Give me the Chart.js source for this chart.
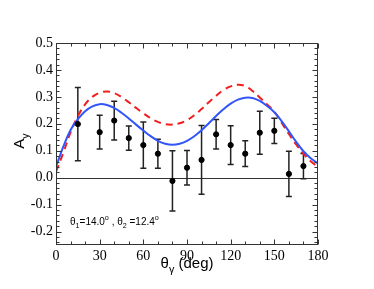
<!DOCTYPE html>
<html>
<head>
<meta charset="utf-8">
<script src="https://cdn.jsdelivr.net/npm/chart.js@4.4.0/dist/chart.umd.min.js"></script>
<style>
html, body { margin: 0; padding: 0; background: #fff; }
</style>
</head>
<body>
<canvas id="canvas" width="374" height="289"></canvas>
<script>
// measured points (theta_gamma in deg, A_y, error)
var angles = [15, 30, 40, 50, 60, 70, 80, 90, 100, 110, 120, 130, 140, 150, 160, 170];
var asym = [0.199, 0.169, 0.212, 0.147, 0.121, 0.089, -0.012, 0.037, 0.066, 0.161, 0.121, 0.089, 0.167, 0.174, 0.014, 0.043];
var asymErr = [0.136, 0.063, 0.072, 0.045, 0.086, 0.054, 0.112, 0.064, 0.128, 0.055, 0.072, 0.048, 0.080, 0.047, 0.084, 0.047];

// calculated curves, every 5 deg
var curveAngles = [0, 5, 10, 15, 20, 25, 30, 35, 40, 45, 50, 55, 60, 65, 70, 75, 80, 85, 90,
                   95, 100, 105, 110, 115, 120, 125, 130, 135, 140, 145, 150, 155, 160, 165, 170, 175, 180];
var solidCurve = [0.040, 0.115, 0.177, 0.217, 0.247, 0.265, 0.273, 0.270, 0.259, 0.241, 0.220, 0.197, 0.175, 0.154, 0.137, 0.126, 0.122, 0.126, 0.137,
                  0.154, 0.176, 0.202, 0.229, 0.254, 0.275, 0.290, 0.297, 0.296, 0.285, 0.266, 0.243, 0.210, 0.172, 0.133, 0.098, 0.072, 0.053];
var dashedCurve = [0.022, 0.092, 0.168, 0.228, 0.272, 0.300, 0.315, 0.320, 0.314, 0.299, 0.280, 0.259, 0.239, 0.221, 0.207, 0.199, 0.197, 0.202, 0.214,
                   0.232, 0.255, 0.280, 0.304, 0.325, 0.339, 0.345, 0.340, 0.322, 0.298, 0.272, 0.245, 0.204, 0.162, 0.123, 0.088, 0.061, 0.040];

// tick labels
var xTicks = [0, 30, 60, 90, 120, 150, 180];
var yTicks = [-0.2, -0.1, 0.0, 0.1, 0.2, 0.3, 0.4, 0.5];

function pairs(xs, ys) {
    var out = [];
    for (var i = 0; i < xs.length; i++) out.push({x: xs[i], y: ys[i]});
    return out;
}

// draw text made of normal / sub / sup pieces
function drawParts(ctx, parts, x, y, size, align) {
    var w = 0;
    parts.forEach(function(p) {
        var s = p[1] == 'n' ? size : size * 0.72;
        ctx.font = s + 'px "Liberation Sans", Arial, sans-serif';
        w += ctx.measureText(p[0]).width;
    });
    var cx = align == 'center' ? x - w / 2 : x;
    parts.forEach(function(p) {
        var s = p[1] == 'n' ? size : size * 0.72;
        var dy = p[1] == 'sub' ? size * 0.3 : (p[1] == 'sup' ? -size * 0.45 : 0);
        ctx.font = s + 'px "Liberation Sans", Arial, sans-serif';
        ctx.fillText(p[0], cx, y + dy);
        cx += ctx.measureText(p[0]).width;
    });
}

var decor = {
    id: 'decor',
    beforeDatasetsDraw: function(chart) {
        var ctx = chart.ctx, xs = chart.scales.x, ys = chart.scales.y;
        ctx.save();
        // zero line
        ctx.strokeStyle = '#333';
        ctx.lineWidth = 1;
        var y0 = Math.round(ys.getPixelForValue(0)) + 0.5;
        ctx.beginPath();
        ctx.moveTo(xs.left, y0);
        ctx.lineTo(xs.right, y0);
        ctx.stroke();
        // error bars
        ctx.strokeStyle = '#222';
        ctx.lineWidth = 1.5;
        for (var i = 0; i < angles.length; i++) {
            var px = xs.getPixelForValue(angles[i]);
            var top = ys.getPixelForValue(asym[i] + asymErr[i]);
            var bot = ys.getPixelForValue(asym[i] - asymErr[i]);
            ctx.beginPath();
            ctx.moveTo(px, top); ctx.lineTo(px, bot);
            ctx.moveTo(px - 3, top); ctx.lineTo(px + 3, top);
            ctx.moveTo(px - 3, bot); ctx.lineTo(px + 3, bot);
            ctx.stroke();
        }
        ctx.restore();
    },
    afterDraw: function(chart) {
        var ctx = chart.ctx, a = chart.chartArea, xs = chart.scales.x, ys = chart.scales.y;
        ctx.save();
        ctx.strokeStyle = '#333';
        ctx.lineWidth = 1;
        var L = Math.round(a.left) + 0.5, R = Math.round(a.right) - 0.5;
        var T = Math.round(a.top) + 0.5, B = Math.round(a.bottom) - 0.5;
        ctx.strokeRect(L, T, R - L, B - T);

        // inward ticks, x every 10 deg
        ctx.beginPath();
        for (var v = 0; v <= 180; v += 10) {
            var px = Math.round(xs.getPixelForValue(v)) + 0.5;
            var len = v % 30 == 0 ? 5 : 3;
            ctx.moveTo(px, B); ctx.lineTo(px, B - len);
            ctx.moveTo(px, T); ctx.lineTo(px, T + len);
        }
        // y every 0.02
        for (var k = -12; k <= 25; k++) {
            var py = Math.round(ys.getPixelForValue(k * 0.02)) + 0.5;
            var ylen = k % 5 == 0 ? 5 : 3;
            ctx.moveTo(L, py); ctx.lineTo(L + ylen, py);
            ctx.moveTo(R, py); ctx.lineTo(R - ylen, py);
        }
        ctx.stroke();

        ctx.fillStyle = '#000';
        ctx.textBaseline = 'alphabetic';
        // x title
        drawParts(ctx, [['\u03b8', 'n'], ['\u03b3', 'sub'], [' (deg)', 'n']], (a.left + a.right) / 2, 268, 15, 'center');
        // y title
        ctx.save();
        ctx.translate(24, (a.top + a.bottom) / 2 - 3);
        ctx.rotate(-Math.PI / 2);
        drawParts(ctx, [['A', 'n'], ['y', 'sub']], 0, 0, 15, 'center');
        ctx.restore();
        // annotation
        drawParts(ctx, [['\u03b8', 'n'], ['1', 'sub'], ['=14.0', 'n'], ['o', 'sup'],
                        [' , \u03b8', 'n'], ['2', 'sub'], [' =12.4', 'n'], ['o', 'sup']],
                  70, ys.getPixelForValue(-0.175), 10, 'left');
        ctx.restore();
    }
};

var tickFont = {family: '"Liberation Serif", "Times New Roman", serif', size: 14};

new Chart(document.getElementById('canvas'), {
    type: 'scatter',
    data: {
        datasets: [{
            data: pairs(angles, asym),
            pointRadius: 2.6,
            pointBackgroundColor: '#000',
            pointBorderColor: '#000',
            showLine: false
        }, {
            data: pairs(curveAngles, solidCurve),
            showLine: true,
            borderColor: 'rgb(50, 85, 250)',
            borderWidth: 2,
            pointRadius: 0,
            tension: 0.4
        }, {
            data: pairs(curveAngles, dashedCurve),
            showLine: true,
            borderColor: 'rgb(240, 30, 30)',
            borderWidth: 2,
            borderDash: [7, 5],
            pointRadius: 0,
            tension: 0.4
        }]
    },
    options: {
        responsive: false,
        animation: false,
        devicePixelRatio: 1,
        layout: {padding: {top: 43, right: 56, left: 0, bottom: 0}},
        plugins: {legend: {display: false}, tooltip: {enabled: false}},
        scales: {
            x: {
                type: 'linear', min: 0, max: 180,
                grid: {display: false, drawTicks: false},
                border: {display: false},
                afterBuildTicks: function(s) { s.ticks = xTicks.map(function(v) { return {value: v}; }); },
                ticks: {padding: 3, color: '#000', maxRotation: 0, autoSkip: false, font: tickFont,
                        callback: function(v) { return String(v); }},
                afterFit: function(s) { s.height = 44; }
            },
            y: {
                min: -0.25, max: 0.5,
                grid: {display: false, drawTicks: false},
                border: {display: false},
                afterBuildTicks: function(s) { s.ticks = yTicks.map(function(v) { return {value: v}; }); },
                ticks: {
                    padding: 3, color: '#000', autoSkip: false, font: tickFont,
                    callback: function(v) { return v.toFixed(1); }
                },
                afterFit: function(s) { s.width = 56; }
            }
        }
    },
    plugins: [decor]
});
</script>
</body>
</html>
